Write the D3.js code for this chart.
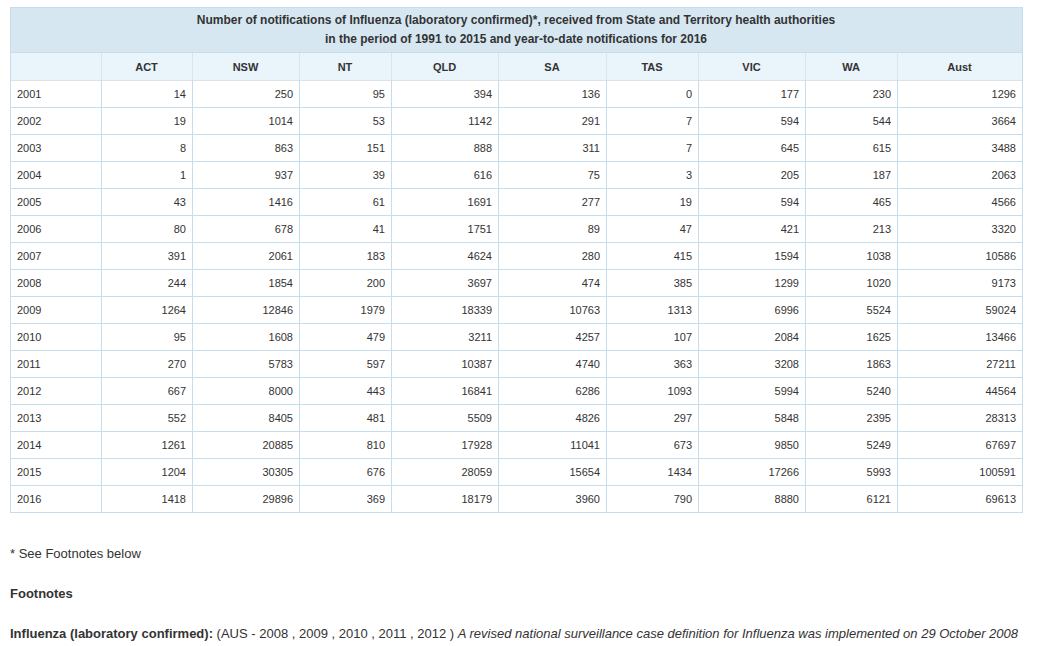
<!DOCTYPE html>
<html><head><meta charset="utf-8">
<script src="https://cdn.jsdelivr.net/npm/d3@7"></script>
<style>
body{margin:0;background:#fff;}
svg{display:block;font-family:Arial,"Liberation Sans",sans-serif;}
</style></head><body>
<svg id="c" width="1038" height="646"></svg>
<script>
const titleLines = ["Number of notifications of Influenza (laboratory confirmed)*, received from State and Territory health authorities",
  "in the period of 1991 to 2015 and year-to-date notifications for 2016"];
const columns = ["ACT","NSW","NT","QLD","SA","TAS","VIC","WA","Aust"];
const years = [2001,2002,2003,2004,2005,2006,2007,2008,2009,2010,2011,2012,2013,2014,2015,2016];
const ACT  = [14,19,8,1,43,80,391,244,1264,95,270,667,552,1261,1204,1418];
const NSW  = [250,1014,863,937,1416,678,2061,1854,12846,1608,5783,8000,8405,20885,30305,29896];
const NT   = [95,53,151,39,61,41,183,200,1979,479,597,443,481,810,676,369];
const QLD  = [394,1142,888,616,1691,1751,4624,3697,18339,3211,10387,16841,5509,17928,28059,18179];
const SA   = [136,291,311,75,277,89,280,474,10763,4257,4740,6286,4826,11041,15654,3960];
const TAS  = [0,7,7,3,19,47,415,385,1313,107,363,1093,297,673,1434,790];
const VIC  = [177,594,645,205,594,421,1594,1299,6996,2084,3208,5994,5848,9850,17266,8880];
const WA   = [230,544,615,187,465,213,1038,1020,5524,1625,1863,5240,2395,5249,5993,6121];
const Aust = [1296,3664,3488,2063,4566,3320,10586,9173,59024,13466,27211,44564,28313,67697,100591,69613];
const series = {ACT,NSW,NT,QLD,SA,TAS,VIC,WA,Aust};
const footnoteStar = "* See Footnotes below";
const footnoteHead = "Footnotes";
const footBold = "Influenza (laboratory confirmed):";
const footNormal = " (AUS - 2008 , 2009 , 2010 , 2011 , 2012 ) ";
const footItalic = "A revised national surveillance case definition for Influenza was implemented on 29 October 2008";

// layout
const colEdges = [10,101,192,299,391,498,606,698,805,897,1022];
const tableTop = 7, titleBottom = 52, headBottom = 80, tableBottom = 512;
const txt = "#333", border = "#c6ddee";

const svg = d3.select("#c");
const y = d3.scaleBand().domain(years).range([headBottom, tableBottom]);
const keys = ["year"].concat(columns);
const xl = d3.scaleOrdinal().domain(keys).range(colEdges.slice(0,-1));
const xr = d3.scaleOrdinal().domain(keys).range(colEdges.slice(1));
const L = colEdges[0], R = colEdges[colEdges.length-1];

// backgrounds
svg.append("rect").attr("x",L).attr("y",tableTop).attr("width",R-L).attr("height",titleBottom-tableTop).attr("fill","#d6e7f2");
svg.append("rect").attr("x",L).attr("y",titleBottom).attr("width",R-L).attr("height",headBottom-titleBottom).attr("fill","#eaf4fb");

// title
svg.selectAll("text.title").data(titleLines).join("text")
  .attr("x",(L+R)/2).attr("y",(d,i)=>20+i*19).attr("dy","0.35em")
  .attr("text-anchor","middle").attr("font-size",12).attr("font-weight","bold").attr("fill",txt).text(d=>d);

// header
svg.selectAll("text.head").data(columns).join("text")
  .attr("x",d=>(xl(d)+xr(d))/2).attr("y",(titleBottom+headBottom)/2+1).attr("dy","0.35em")
  .attr("text-anchor","middle").attr("font-size",11).attr("font-weight","bold").attr("fill",txt).text(d=>d);

// grid lines
const g = svg.append("g").attr("shape-rendering","crispEdges").attr("fill","none");
// horizontal
const hLines = [tableTop, titleBottom, headBottom].concat(years.map(d=>y(d)+y.bandwidth()));
g.selectAll("line.h").data(hLines).join("line")
  .attr("x1",L).attr("x2",R).attr("y1",d=>d+0.5).attr("y2",d=>d+0.5)
  .attr("stroke",(d)=>d===headBottom?"#dde3e8":border);
// vertical in header (grey) and body (blue)
g.selectAll("line.vh").data(colEdges.slice(1,-1)).join("line")
  .attr("x1",d=>d+0.5).attr("x2",d=>d+0.5).attr("y1",titleBottom+1).attr("y2",headBottom)
  .attr("stroke","#dfe3e6");
g.selectAll("line.vb").data(colEdges.slice(1,-1)).join("line")
  .attr("x1",d=>d+0.5).attr("x2",d=>d+0.5).attr("y1",headBottom).attr("y2",tableBottom)
  .attr("stroke",border);
g.selectAll("line.vo").data([L,R]).join("line")
  .attr("x1",d=>d+0.5).attr("x2",d=>d+0.5).attr("y1",tableTop).attr("y2",tableBottom+1)
  .attr("stroke",border);

// rows
const rows = svg.selectAll("g.row").data(years).join("g").attr("class","row");
rows.append("text").attr("x",L+7).attr("y",d=>y(d)+y.bandwidth()/2+1).attr("dy","0.35em")
  .attr("font-size",11).attr("fill",txt).text(d=>d);
columns.forEach(c=>{
  rows.append("text").attr("x",xr(c)-6).attr("y",d=>y(d)+y.bandwidth()/2+1).attr("dy","0.35em")
    .attr("text-anchor","end").attr("font-size",11).attr("fill",txt)
    .text((d,i)=>series[c][i]);
});

// footnotes
svg.append("text").attr("x",L).attr("y",553).attr("dy","0.35em").attr("font-size",13).attr("fill",txt).text(footnoteStar);
svg.append("text").attr("x",L).attr("y",593).attr("dy","0.35em").attr("font-size",13).attr("font-weight","bold").attr("fill",txt).text(footnoteHead);
const ft = svg.append("text").attr("x",L).attr("y",633).attr("dy","0.35em").attr("font-size",13).attr("fill",txt);
ft.append("tspan").attr("font-weight","bold").text(footBold);
ft.append("tspan").attr("xml:space","preserve").text(footNormal);
ft.append("tspan").attr("font-style","italic").text(footItalic);
</script>
</body></html>
